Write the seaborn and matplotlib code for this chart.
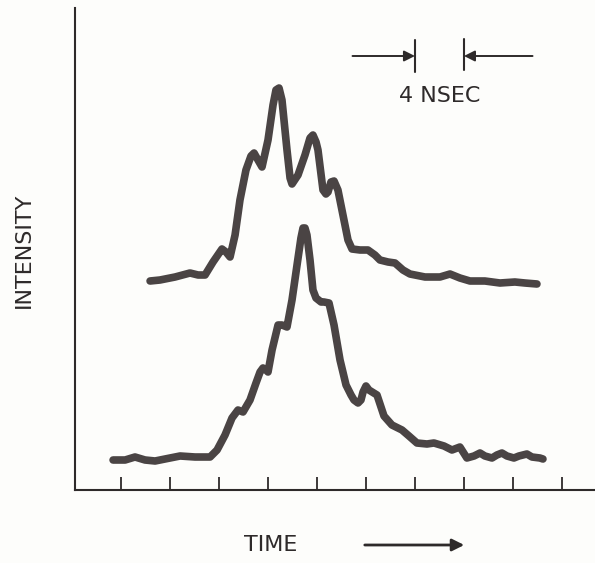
import numpy as np
import pandas as pd
import seaborn as sns
import matplotlib.pyplot as plt
from matplotlib.patches import FancyArrowPatch

# time axis in ns (one tick = 4 ns), intensity in arbitrary units
ticks_ns = list(range(0, 40, 4))

upper_t = [2.37, 3.18, 4.41, 5.63, 6.29, 6.86, 7.51, 8.24, 8.57, 8.90, 9.31, 9.71,
           10.20, 10.61, 10.86, 11.18, 11.51, 12.00, 12.41, 12.65, 12.90, 13.14,
           13.55, 13.80, 13.96, 14.45, 15.02, 15.43, 15.67, 15.92, 16.08, 16.49,
           16.73, 16.90, 17.14, 17.39, 17.71, 18.12, 18.53, 18.86, 19.51, 20.16,
           20.73, 21.14, 21.80, 22.37, 23.02, 23.59, 24.82, 26.04, 26.86, 27.67,
           28.49, 29.71, 30.94, 32.16, 32.98, 33.96]
upper_i = [209, 210, 213, 217, 215, 215, 228, 241, 238, 233, 255, 290,
           320, 334, 337, 330, 323, 350, 385, 400, 402, 390,
           340, 312, 306, 315, 335, 352, 355, 348, 340, 300,
           296, 298, 308, 309, 300, 275, 250, 241, 240, 240,
           235, 230, 228, 227, 220, 216, 213, 213, 216, 212,
           209, 209, 207, 208, 207, 206]

lower_t = [-0.65, 0.33, 1.14, 1.96, 2.78, 3.59, 4.82, 6.04, 7.27, 7.84, 8.49,
           9.06, 9.55, 9.96, 10.53, 11.02, 11.35, 11.59, 11.84, 12.00, 12.33,
           12.82, 13.14, 13.55, 13.96, 14.37, 14.69, 14.86, 15.02, 15.18, 15.43,
           15.67, 15.92, 16.33, 16.57, 16.98, 17.39, 17.88, 18.37, 18.78, 19.02,
           19.35, 19.59, 19.76, 20.00, 20.24, 20.90, 21.47, 22.12, 22.94, 23.51,
           24.16, 24.98, 25.55, 26.37, 27.02, 27.67, 28.24, 28.82, 29.31, 29.71,
           30.29, 30.69, 31.10, 31.51, 32.08, 32.49, 33.14, 33.55, 34.20, 34.45]
lower_i = [30, 30, 33, 30, 29, 31, 34, 33, 33, 40, 55,
           72, 80, 78, 90, 107, 118, 122, 120, 118, 140,
           165, 165, 163, 190, 225, 252, 262, 262, 255, 230,
           200, 192, 188, 188, 187, 165, 130, 105, 95, 90,
           87, 90, 98, 104, 100, 95, 74, 65, 60, 54,
           47, 46, 47, 44, 40, 43, 32, 34, 37, 34,
           32, 35, 37, 34, 32, 34, 36, 33, 32, 31]

upper = pd.DataFrame({"time": upper_t, "intensity": upper_i})
lower = pd.DataFrame({"time": lower_t, "intensity": lower_i})

sns.set_style("white")
plt.rcParams["font.family"] = ["DejaVu Sans"]

ink = "#2e2a2a"
trace = "#4a4444"
paper = "#fdfdfb"

fig = plt.figure(figsize=(5.95, 5.63), dpi=100, facecolor=paper)
ax = fig.add_axes([75 / 595, 73 / 563, 520 / 595, 482 / 563])
ax.set_facecolor(paper)

for df in (upper, lower):
    sns.lineplot(data=df, x="time", y="intensity", ax=ax, sort=False,
                 estimator=None, color=trace, linewidth=5.5,
                 solid_capstyle="round", solid_joinstyle="round")

ax.set_xlim(-3.76, 38.7)
ax.set_ylim(0, 482)
sns.despine(ax=ax)
for side in ("left", "bottom"):
    ax.spines[side].set_color(ink)
    ax.spines[side].set_linewidth(1.5)

ax.set_xticks(ticks_ns)
ax.set_yticks([])
ax.tick_params(axis="x", bottom=True, direction="in", length=9.5, width=1.3,
               color=ink, labelbottom=False)
ax.set_xlabel("")
ax.set_ylabel("")

# 4 ns scale marker
bar_y = 434
ax.plot([24, 24], [418, 450], color=ink, lw=1.5)
ax.plot([28, 28], [420, 451], color=ink, lw=1.5)
ax.annotate("", xy=(24, bar_y), xytext=(18.9, bar_y),
            arrowprops=dict(arrowstyle="-|>", color=ink, lw=1.4,
                            mutation_scale=16, shrinkA=0, shrinkB=0))
ax.annotate("", xy=(28, bar_y), xytext=(33.6, bar_y),
            arrowprops=dict(arrowstyle="-|>", color=ink, lw=1.4,
                            mutation_scale=16, shrinkA=0, shrinkB=0))
ax.text(26, 394, "4 NSEC", ha="center", va="center", fontsize=16, color=ink)

fig.text(24 / 595, 1 - 250 / 563, "INTENSITY", rotation=90, ha="center",
         va="center", fontsize=16, color=ink)
fig.text(271 / 595, 1 - 545 / 563, "TIME", ha="center", va="center",
         fontsize=16, color=ink)
fig.add_artist(FancyArrowPatch(
    (362 / 595, 1 - 545 / 563), (467 / 595, 1 - 545 / 563),
    transform=fig.transFigure, arrowstyle="-|>", mutation_scale=18,
    color=ink, lw=2))

fig.savefig("out.png", dpi=100, facecolor=fig.get_facecolor())
